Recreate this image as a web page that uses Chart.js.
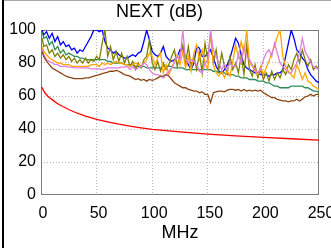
<!DOCTYPE html>
<html>
<head>
<meta charset="utf-8">
<script src="https://cdn.jsdelivr.net/npm/chart.js@4"></script>
<style>
  html, body { margin: 0; padding: 0; background: #fff; overflow: hidden; }
  #wrap { position: relative; width: 345px; height: 248px; }
  #edgeLeft { position: absolute; left: 2px; top: 0; width: 2px; height: 248px; background: #000; }
  #edgeTop { position: absolute; left: 4px; top: 0; width: 341px; height: 1px; background: #a8a8a8; }
</style>
</head>
<body>
<div id="wrap">
  <canvas id="chart" width="345" height="248"></canvas>
  <div id="edgeLeft"></div>
  <div id="edgeTop"></div>
</div>
<script>
// frequency points (MHz)
const freq = [
  1, 2.5, 5, 7.5, 10, 12.5, 15, 17.5, 20, 22.5,
  25, 27.5, 30, 32.5, 35, 37.5, 40, 42.5, 45, 47.5,
  50, 52.5, 55, 57.5, 60, 62.5, 65, 67.5, 70, 72.5,
  75, 77.5, 80, 82.5, 85, 87.5, 90, 92.5, 95, 97.5,
  100, 102.5, 105, 107.5, 110, 112.5, 115, 117.5, 120, 122.5,
  125, 127.5, 130, 132.5, 135, 137.5, 140, 142.5, 145, 147.5,
  150, 152.5, 155, 157.5, 160, 162.5, 165, 167.5, 170, 172.5,
  175, 177.5, 180, 182.5, 185, 187.5, 190, 192.5, 195, 197.5,
  200, 202.5, 205, 207.5, 210, 212.5, 215, 217.5, 220, 222.5,
  225, 227.5, 230, 232.5, 235, 237.5, 240, 242.5, 245, 247.5,
  250
];

const bluePair = [
  100, 97, 99, 95, 98, 93, 96, 91, 93, 90,
  91, 88, 89, 86, 88, 87, 90, 93, 96, 100,
  100, 99, 100, 93, 89, 88, 86, 87, 85, 84,
  83, 83, 84, 85, 84, 86, 87, 93, 100, 94,
  87, 85, 84, 86, 90, 84, 82, 81, 82, 84,
  88, 89, 82, 79, 76, 80, 90, 89, 84, 84,
  86, 88, 83, 78, 75, 74, 76, 79, 83, 89,
  95, 92, 85, 79, 77, 76, 75, 74, 74, 73,
  73, 73, 72, 73, 73, 74, 74, 76, 84, 92,
  100, 95, 88, 86, 83, 81, 76, 73, 71, 69,
  68
];

const greenPair = [
  99, 95, 96, 91, 93, 88, 90, 86, 88, 85,
  86, 85, 84, 84, 83, 83, 82, 82, 82, 82,
  82, 82, 82, 82, 81, 81, 80, 80, 80, 80,
  79, 79, 79, 79, 78, 78, 78, 78, 77, 77,
  77, 77, 77, 77, 78, 78, 78, 78, 77, 77,
  77, 77, 76, 76, 76, 76, 76, 76, 76, 76,
  76, 76, 75, 75, 74, 74, 74, 73, 73, 73,
  72, 72, 71, 71, 71, 70, 70, 70, 69, 69,
  69, 68, 68, 67, 66, 66, 65, 65, 65, 65,
  66, 66, 66, 66, 66, 65, 65, 64, 63, 63,
  62
];

const olivePair = [
  95, 90, 91, 86, 88, 84, 86, 83, 85, 82,
  84, 81, 83, 80, 82, 80, 83, 80, 82, 81,
  84, 82, 92, 100, 84, 90, 82, 87, 81, 86,
  80, 84, 78, 81, 76, 80, 77, 82, 84, 94,
  80, 76, 81, 75, 80, 76, 79, 84, 88, 78,
  85, 91, 80, 90, 78, 84, 76, 86, 74, 92,
  82, 98, 80, 88, 76, 86, 78, 74, 84, 76,
  80, 74, 84, 73, 91, 76, 72, 79, 71, 76,
  70, 74, 69, 75, 70, 74, 71, 76, 73, 79,
  76, 82, 86, 80, 88, 82, 78, 82, 76, 78,
  76
];

const orangePair = [
  90, 87, 85, 83, 82, 81, 80, 80, 79, 79,
  79, 78, 78, 78, 78, 78, 78, 78, 79, 79,
  79, 78, 80, 79, 80, 79, 80, 81, 80, 80,
  79, 79, 78, 79, 80, 79, 78, 80, 82, 86,
  84, 79, 83, 86, 74, 79, 73, 77, 81, 85,
  79, 87, 77, 84, 75, 86, 91, 82, 88, 80,
  76, 100, 79, 74, 72, 75, 71, 75, 72, 81,
  91, 84, 93, 86, 100, 80, 78, 75, 73, 78,
  73, 77, 81, 86, 90, 96, 100, 84, 78, 75,
  73, 71, 79, 75, 70, 74, 69, 68, 66, 65,
  64
];

const violetPair = [
  88, 85, 82, 81, 80, 79, 79, 78, 78, 78,
  77.5, 77.5, 77, 77, 77, 77, 77, 77, 76.5, 76.5,
  76.5, 76.5, 76, 76.5, 77, 77, 77, 77, 77, 77.5,
  77.5, 78, 76, 78, 76, 77, 78, 80, 79, 76,
  74, 73, 73, 72, 71, 73, 75, 77, 80, 84,
  82, 100, 82, 80, 82, 81, 79, 75, 74, 80,
  82, 99, 88, 84, 80, 76, 79, 76, 80, 78,
  78, 85, 80, 90, 84, 82, 79, 76, 74, 76,
  82, 86, 88, 84, 92, 86, 80, 78, 76, 74,
  74, 77, 80, 86, 95, 87, 84, 80, 78, 77,
  76
];

const brownPair = [
  87, 84, 81, 79, 77, 76, 75, 74, 73, 72,
  71.5, 71, 70.5, 70.5, 70.5, 70.5, 71, 71, 71.5, 72,
  72.5, 73, 73.5, 74, 74.5, 75, 75, 75.5, 75, 74,
  73, 72.5, 72, 71, 70, 70.5, 69.5, 70, 69, 70,
  69.5, 70, 71, 72, 72, 73, 72, 70, 68, 67,
  66, 65, 65, 64, 63.5, 63, 63, 62, 62.5, 61,
  61, 56, 62, 62.5, 63, 63, 62.5, 63.5, 64, 64,
  63.5, 64, 63, 64, 63, 63.5, 63, 63.5, 63, 63.5,
  62, 61, 60, 59, 59, 58, 57.5, 57, 57, 56.5,
  57, 57, 58, 57, 58, 59.5, 60, 61, 60, 61,
  61
];

// limit line
const limitFreq = [1, 2, 4, 6, 8, 10, 15, 20, 25, 30, 40, 50, 60, 70, 80, 90, 100, 125, 150, 175, 200, 225, 250];
const limitVals = [65.3, 63.5, 61.5, 60, 58.8, 57.8, 55.3, 53.5, 51.8, 50.3, 47.8, 45.8, 44.3, 42.9, 41.7, 40.7, 39.8, 38.2, 36.9, 35.8, 34.9, 34.1, 33.3];

const xTicks = [0, 50, 100, 150, 200, 250];
const yTicks = [0, 20, 40, 60, 80, 100];

function pts(xs, ys) {
  return xs.map((x, i) => ({ x: x, y: ys[i] }));
}

function line(data, color) {
  return { data: data, borderColor: color, borderWidth: 1.3, pointRadius: 0, fill: false, tension: 0 };
}

const frame = {
  id: 'frame',
  beforeDatasetsDraw(chart) {
    const a = chart.chartArea;
    const c = chart.ctx;
    c.save();
    c.strokeStyle = '#7a7a7a';
    c.lineWidth = 1;
    c.strokeRect(a.left + 0.5, a.top + 0.5, a.right - a.left - 1, a.bottom - a.top - 1);
    c.restore();
  }
};

const family = '"Liberation Sans", Arial, sans-serif';
const tickFont = { family: family, size: 16 };
const titleFont = { family: family, size: 18, weight: 'normal' };

const ctx = document.getElementById('chart').getContext('2d');
const chart = new Chart(ctx, {
  type: 'line',
  data: {
    datasets: [
      line(pts(limitFreq, limitVals), '#ff0000'),
      line(pts(freq, brownPair), '#8b4513'),
      line(pts(freq, violetPair), '#e07ee0'),
      line(pts(freq, orangePair), '#ffa500'),
      line(pts(freq, olivePair), '#808000'),
      line(pts(freq, greenPair), '#2e8b57'),
      line(pts(freq, bluePair), '#0000ff')
    ]
  },
  options: {
    responsive: false,
    animation: false,
    layout: { padding: { left: 0, right: 26, top: 0, bottom: 0 } },
    plugins: {
      legend: { display: false },
      tooltip: { enabled: false },
      title: {
        display: true,
        text: 'NEXT (dB)',
        color: '#000',
        font: titleFont,
        padding: { top: 1, bottom: 7.4 }
      }
    },
    scales: {
      x: {
        type: 'linear',
        min: 0,
        max: 250,
        afterBuildTicks: s => { s.ticks = xTicks.map(v => ({ value: v })); },
        afterFit: s => { s.height = 53; },
        ticks: { color: '#000', font: tickFont, padding: 9, maxRotation: 0, labelOffset: 2 },
        grid: {
          drawTicks: false,
          color: c => (c.tick && (c.tick.value === 0 || c.tick.value === 250)) ? 'rgba(0,0,0,0)' : '#b8b8b8'
        },
        border: { display: false, dash: [1, 2] },
        title: { display: true, text: 'MHz', color: '#000', font: titleFont, padding: { top: 0, bottom: 4 } }
      },
      y: {
        min: 0,
        max: 100,
        afterBuildTicks: s => { s.ticks = yTicks.map(v => ({ value: v })); },
        afterFit: s => { s.width = 41; },
        ticks: { color: '#000', font: tickFont, padding: 5 },
        grid: {
          drawTicks: false,
          color: c => (c.tick && (c.tick.value === 0 || c.tick.value === 100)) ? 'rgba(0,0,0,0)' : '#b8b8b8'
        },
        border: { display: false, dash: [1, 2] }
      }
    }
  },
  plugins: [frame]
});
</script>
</body>
</html>
